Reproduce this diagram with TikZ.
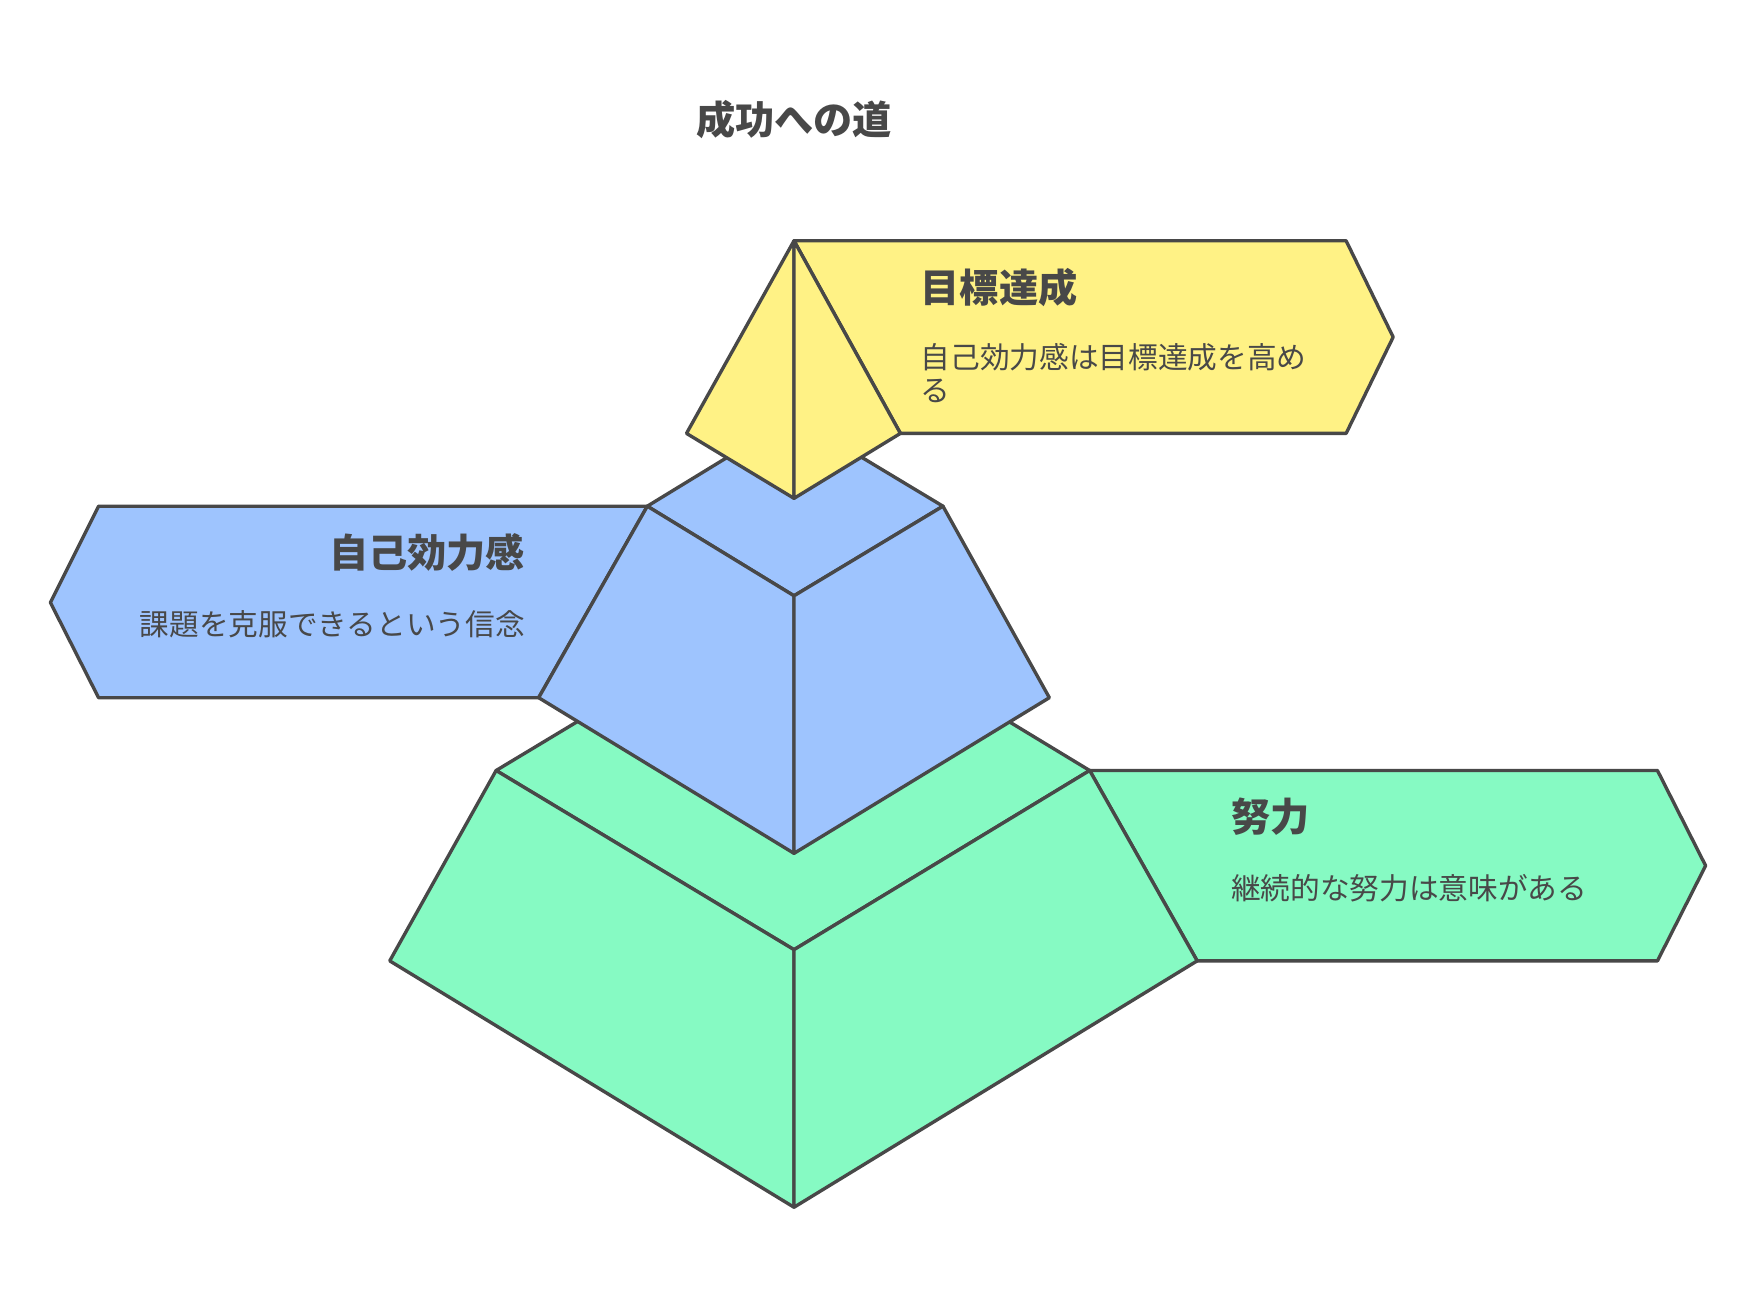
\documentclass[tikz,border=0pt]{standalone}
\usepackage{fontspec}
\setmainfont{Noto Sans CJK JP}
\definecolor{ink}{HTML}{484848}
\definecolor{yel}{HTML}{FFF285}
\definecolor{blu}{HTML}{9EC4FE}
\definecolor{grn}{HTML}{86FAC3}
\begin{document}
\begin{tikzpicture}[x=1pt,y=-1pt,
  face/.style={draw=ink,line width=3pt,line join=round},
  midline/.style={draw=ink,line width=2.2pt},
  ttl/.style={text=ink,font=\fontsize{35}{40}\selectfont\bfseries,inner sep=0pt},
  body/.style={text=ink,font=\fontsize{26.5}{30}\selectfont,inner sep=0pt},
]
\useasboundingbox (0,0) rectangle (1568,1166);
\fill[white] (0,0) rectangle (1568,1166);

% title
\node[ttl] (title) at (709,107) {成功への道};

% ---------- green level ----------
\path[face,fill=grn] (973,688) -- (1480,688) -- (1523,773) -- (1480,858) -- (1069,858) -- cycle;
\path[face,fill=grn] (443,688) -- (709,528) -- (973,688) -- (709,848) -- cycle;
\path[face,fill=grn] (443,688) -- (709,848) -- (709,1078) -- (348,858) -- cycle;
\path[face,fill=grn] (709,848) -- (973,688) -- (1069,858) -- (709,1078) -- cycle;
\draw[midline] (709,848) -- (709,1078);

% ---------- blue level ----------
\path[face,fill=blu] (88,452) -- (578,452) -- (481,623) -- (88,623) -- (45,538) -- cycle;
\path[face,fill=blu] (578,452) -- (709,372) -- (842,452) -- (709,532) -- cycle;
\path[face,fill=blu] (578,452) -- (709,532) -- (709,762) -- (481,623) -- cycle;
\path[face,fill=blu] (709,532) -- (842,452) -- (937,623) -- (709,762) -- cycle;
\draw[midline] (709,532) -- (709,762);

% ---------- yellow level ----------
\path[face,fill=yel] (709,215) -- (1202,215) -- (1244,301) -- (1202,387) -- (804,387) -- cycle;
\path[face,fill=yel] (709,215) -- (709,445) -- (613,387) -- cycle;
\path[face,fill=yel] (709,215) -- (804,387) -- (709,445) -- cycle;
\draw[midline] (709,215) -- (709,445);

% ---------- texts ----------
\node[ttl,anchor=west] (t1) at (822,257) {目標達成};
\node[body,anchor=west,align=left] (b1) at (822,333) {自己効力感は目標達成を高め\\る};

\node[ttl,anchor=east] (t2) at (469,493) {自己効力感};
\node[body,anchor=east] (b2) at (469,557) {課題を克服できるという信念};

\node[ttl,anchor=west] (t3) at (1099,729) {努力};
\node[body,anchor=west] (b3) at (1099,793) {継続的な努力は意味がある};
\end{tikzpicture}
\end{document}
